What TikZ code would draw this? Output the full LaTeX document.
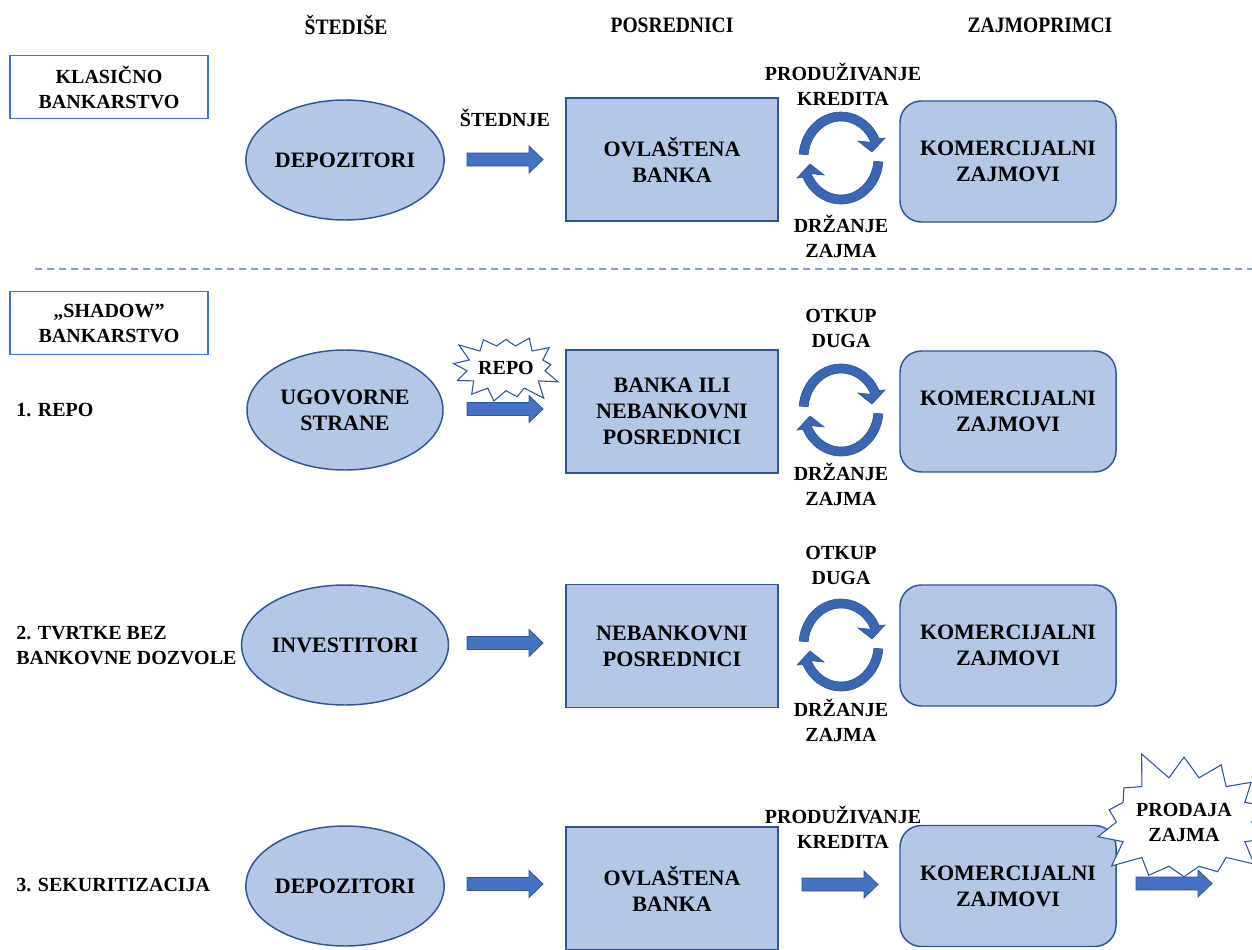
\documentclass[tikz,border=0pt]{standalone}
\usepackage{fontspec}
\setmainfont{Liberation Serif}
\newfontfamily\hdrfont[FakeStretch=0.89]{Liberation Serif}
\usetikzlibrary{shapes.geometric,shapes.symbols}
\definecolor{shapefill}{HTML}{B4C7E7}
\definecolor{shapedraw}{HTML}{2F5597}
\definecolor{boxdraw}{HTML}{4472C4}
\definecolor{arrfill}{HTML}{4472C4}
\definecolor{arrdraw}{HTML}{2F5597}
\definecolor{cycfill}{HTML}{3A66B6}
\definecolor{dashcol}{HTML}{7F9FD6}
\tikzset{
  blockarr/.pic={\draw[draw=arrdraw, fill=arrfill, line width=0.6pt]
    (-38,-6.5) -- (24,-6.5) -- (24,-13.5) -- (38,0) -- (24,13.5) -- (24,6.5) -- (-38,6.5) -- cycle;},
  cycarr/.pic={
    \foreach \r in {0,180}{
      \filldraw[rotate=\r, fill=cycfill, draw=arrdraw, line width=0.5pt]
        (185:42 and 46) arc[start angle=185,end angle=335,x radius=42,y radius=46]
        -- (44,-20) -- (31,-6) -- (17,-17) -- (335:33 and 37)
        arc[start angle=335,end angle=185,x radius=33,y radius=37] -- cycle;}
  }
}
\begin{document}
\begin{tikzpicture}[x=0.75pt,y=-0.75pt,
  every node/.style={align=center},
  big/.style={font=\fontsize{16.5}{19.5}\selectfont\bfseries},
  lab/.style={font=\fontsize{15}{18.75}\selectfont\bfseries},
  hdr/.style={font=\hdrfont\fontsize{16.5}{19.5}\selectfont\bfseries},
  ellnode/.style={ellipse, draw=shapedraw, fill=shapefill, line width=1.1pt, minimum width=147pt, minimum height=90pt, inner sep=0pt, big},
  rectnode/.style={rectangle, draw=shapedraw, fill=shapefill, line width=1.1pt, minimum width=159pt, minimum height=92.25pt, big},
  roundnode/.style={rectangle, rounded corners=16pt, draw=shapedraw, fill=shapefill, line width=1.1pt, minimum width=162pt, minimum height=90.75pt, big},
  labbox/.style={rectangle, draw=boxdraw, line width=1.1pt, minimum width=148.5pt, minimum height=47.5pt, lab},
  burst/.style={starburst, draw=shapedraw, fill=white, line width=0.8pt, lab, inner sep=0pt}
]
\useasboundingbox (0,0) rectangle (1252,949);

% headers
\node[hdr] (h1) at (346,25) {ŠTEDIŠE};
\node[hdr] (h2) at (672,25) {POSREDNICI};
\node[hdr] (h3) at (1040,25) {ZAJMOPRIMCI};

% row 1: classic banking
\node[labbox] (b1) at (109,87) {KLASIČNO\\BANKARSTVO};
\node[ellnode] (e1) at (345,160) {DEPOZITORI};
\pic at (505,159.5) {blockarr};
\node[lab] (t1) at (505,118) {ŠTEDNJE};
\node[rectnode] (r1) at (672,159.5) {OVLAŠTENA\\BANKA};
\node[lab] (p1) at (843,84.5) {PRODUŽIVANJE\\KREDITA};
\pic at (841,158) {cycarr};
\node[lab] (d1) at (841,236.5) {DRŽANJE\\ZAJMA};
\node[roundnode] (k1) at (1008,161.5) {KOMERCIJALNI\\ZAJMOVI};

% separator
\coordinate (s1) at (35,269);
\coordinate (s2) at (1252,269);
\draw[dashcol, line width=0.8pt, dash pattern=on 5.25pt off 3.75pt] (s1) -- (s2);

% shadow banking
\node[labbox] (b2) at (109,323) {„SHADOW”\\BANKARSTVO};

% row 2: repo
\node[lab, anchor=west, inner sep=0pt] (l1) at (16,410) {1. REPO};
\node[ellnode] (e2) at (345,410) {UGOVORNE\\STRANE};
\node[burst, starburst points=13, starburst point height=14pt, random starburst=3, minimum width=74pt, minimum height=62pt] (repo) at (506,368) {REPO};
\pic at (505,409) {blockarr};
\node[rectnode] (r2) at (672,411.5) {BANKA ILI\\NEBANKOVNI\\POSREDNICI};
\node[lab] (o2) at (841,328.5) {OTKUP\\DUGA};
\pic at (841,410) {cycarr};
\node[lab] (d2) at (841,484.5) {DRŽANJE\\ZAJMA};
\node[roundnode] (k2) at (1008,411.5) {KOMERCIJALNI\\ZAJMOVI};

% row 3
\node[lab, anchor=west, inner sep=0pt, align=left] (l2) at (16,645.5) {2. TVRTKE BEZ\\BANKOVNE DOZVOLE};
\node[ellnode] (e3) at (345,645) {INVESTITORI};
\pic at (505,643) {blockarr};
\node[rectnode] (r3) at (672,646) {NEBANKOVNI\\POSREDNICI};
\node[lab] (o3) at (841,565.5) {OTKUP\\DUGA};
\pic at (841,645) {cycarr};
\node[lab] (d3) at (841,720) {DRŽANJE\\ZAJMA};
\node[roundnode] (k3) at (1008,645.5) {KOMERCIJALNI\\ZAJMOVI};

% row 4
\node[lab, anchor=west, inner sep=0pt] (l3) at (16,885) {3. SEKURITIZACIJA};
\node[ellnode] (e4) at (345,886) {DEPOZITORI};
\pic at (505,884) {blockarr};
\node[rectnode] (r4) at (672,888.5) {OVLAŠTENA\\BANKA};
\node[lab] (p4) at (843,827.5) {PRODUŽIVANJE\\KREDITA};
\pic at (840,884.5) {blockarr};
\node[roundnode] (k4) at (1008,886) {KOMERCIJALNI\\ZAJMOVI};
\node[burst, starburst points=14, starburst point height=24pt, random starburst=5, minimum width=94pt, minimum height=116pt] (prod) at (1184,822) {PRODAJA\\ZAJMA};
\pic at (1174,883.5) {blockarr};
\end{tikzpicture}
\end{document}
